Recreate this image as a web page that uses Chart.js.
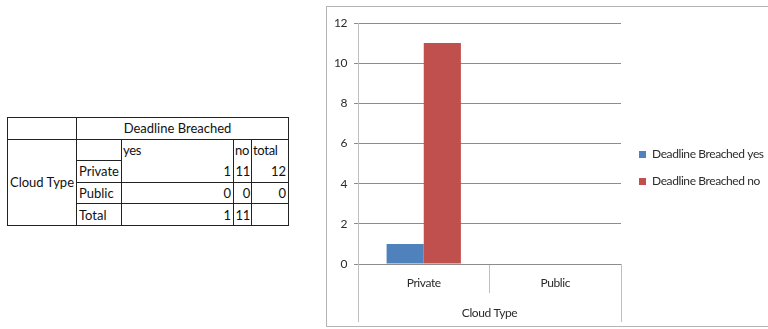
<!DOCTYPE html>
<html>
<head>
<meta charset="utf-8">
<script src="https://cdn.jsdelivr.net/npm/chart.js@4.4.1/dist/chart.umd.min.js"></script>
<style>
  html, body { margin: 0; padding: 0; background: #fff; overflow: hidden; width: 768px; height: 329px; }
  #crosstab {
    position: absolute; left: 7px; top: 117px; width: 281px; height: 109px;
    border-collapse: collapse; table-layout: fixed;
    font-family: Lato, "Noto Sans", sans-serif; font-size: 13px; color: #111;
  }
  #crosstab td { border: 1px solid #222; padding: 0 2px; height: 20px; line-height: 18px; white-space: nowrap; overflow: hidden; }
  #crosstab td.num { text-align: right; }
  #crosstab td.tight { padding: 0 1px; letter-spacing: -0.3px; }
  #crosstab td.head { text-align: center; padding-right: 12px; }
  #crosstab tr.sub td.nb { border-bottom: none; }
  #crosstab tr.first td.nt { border-top: none; }
  #frame {
    position: absolute; left: 326px; top: 6px; width: 460px; height: 321px;
    border: 1px solid #b4b4b4; box-sizing: border-box;
  }
  #chartBox { position: absolute; left: 0; top: 0; width: 458px; height: 320px; }
</style>
</head>
<body>
<table id="crosstab"></table>
<div id="frame"><div id="chartBox"><canvas id="chart"></canvas></div></div>
<script>
// Cloud type vs. deadline breached counts
const categories = ['Private', 'Public'];
const breachedYes = [1, 0];
const breachedNo = [11, 0];
const rowTotals = [12, 0];
const colTotals = [1, 11];
const yTicks = [0, 2, 4, 6, 8, 10, 12];
const seriesNames = ['Deadline Breached yes', 'Deadline Breached no'];
const rowLabel = 'Cloud Type';
const colLabel = 'Deadline Breached';
const colHeads = ['yes', 'no', 'total'];

// Cross-tabulation table
(function buildTable() {
  const t = document.getElementById('crosstab');
  const widths = [69, 45, 112, 18, 37];
  const cg = document.createElement('colgroup');
  widths.forEach(w => { const c = document.createElement('col'); c.style.width = w + 'px'; cg.appendChild(c); });
  t.appendChild(cg);
  let html = '';
  html += '<tr><td></td><td class="head" colspan="4">' + colLabel + '</td></tr>';
  html += '<tr class="sub"><td rowspan="4">' + rowLabel + '</td><td></td>' +
          colHeads.map(h => '<td class="nb tight">' + h + '</td>').join('') + '</tr>';
  categories.forEach((c, i) => {
    html += '<tr class="' + (i === 0 ? 'first' : '') + '"><td>' + c + '</td>' +
            '<td class="num nt">' + breachedYes[i] + '</td>' +
            '<td class="num nt tight">' + breachedNo[i] + '</td>' +
            '<td class="num nt">' + rowTotals[i] + '</td></tr>';
  });
  html += '<tr><td>Total</td><td class="num">' + colTotals[0] + '</td><td class="num tight">' + colTotals[1] + '</td><td></td></tr>';
  t.insertAdjacentHTML('beforeend', html);
})();

const FONT = 'Lato, "Noto Sans", sans-serif';
const TEXT = '#2b2b2b';
const GRID = '#8c8c8c';
const FRAME = '#bfbfbf';

// Slightly condensed text for all chart labels
const condensedText = {
  id: 'condensedText',
  beforeDraw(chart) { chart.ctx.letterSpacing = '-0.4px'; },
  afterDraw(chart) { chart.ctx.letterSpacing = '0px'; }
};

// Moves the legend block into place beside the plot
const legendPlacer = {
  id: 'legendPlacer',
  afterLayout(chart) {
    const lg = chart.legend;
    if (!lg) return;
    const pad = chart.options.plugins.legend.labels.padding;
    const dx = (chart.chartArea.right + 18 - pad) - lg.left;
    const dy = -7;
    lg.left += dx; lg.right += dx;
    lg.top += dy; lg.bottom += dy;
  }
};

// Outer brackets of the category axis (group "Cloud Type")
const groupBrackets = {
  id: 'groupBrackets',
  afterDraw(chart) {
    const x = chart.scales.x;
    const ctx = chart.ctx;
    ctx.save();
    ctx.strokeStyle = FRAME;
    ctx.lineWidth = 1;
    [x.left, x.right].forEach(px => {
      const p = Math.round(px) + 0.5;
      ctx.beginPath();
      ctx.moveTo(p, x.top);
      ctx.lineTo(p, x.top + 58);
      ctx.stroke();
    });
    ctx.restore();
  }
};

new Chart(document.getElementById('chart'), {
  type: 'bar',
  data: {
    labels: categories,
    datasets: [
      { label: seriesNames[0], data: breachedYes, backgroundColor: '#4f81bd' },
      { label: seriesNames[1], data: breachedNo, backgroundColor: '#c0504d' }
    ]
  },
  options: {
    responsive: true,
    maintainAspectRatio: false,
    animation: false,
    layout: { padding: { top: 16, left: 0, right: 24, bottom: 0 } },
    datasets: { bar: { categoryPercentage: 0.565, barPercentage: 1 } },
    plugins: {
      tooltip: { enabled: false },
      legend: {
        position: 'right',
        align: 'center',
        maxWidth: 140,
        labels: {
          boxWidth: 7, boxHeight: 7, padding: 15,
          color: TEXT, font: { family: FONT, size: 12 }
        }
      }
    },
    scales: {
      x: {
        afterFit: s => { s.height = 63; },
        grid: { offset: true, drawOnChartArea: false, drawTicks: true, tickLength: 29, color: FRAME },
        border: { color: GRID },
        ticks: { color: TEXT, font: { family: FONT, size: 12 }, padding: -17 },
        title: { display: true, text: rowLabel, color: TEXT, font: { family: FONT, size: 12 }, padding: { top: 0, bottom: 7 } }
      },
      y: {
        min: 0, max: 12,
        afterFit: s => { s.width = 31; },
        afterBuildTicks: s => { s.ticks = yTicks.map(v => ({ value: v })); },
        grid: { color: GRID, tickLength: 4, tickColor: GRID },
        border: { color: FRAME },
        ticks: { color: TEXT, font: { family: FONT, size: 12 }, padding: 7 }
      }
    }
  },
  plugins: [condensedText, legendPlacer, groupBrackets]
});
</script>
</body>
</html>
